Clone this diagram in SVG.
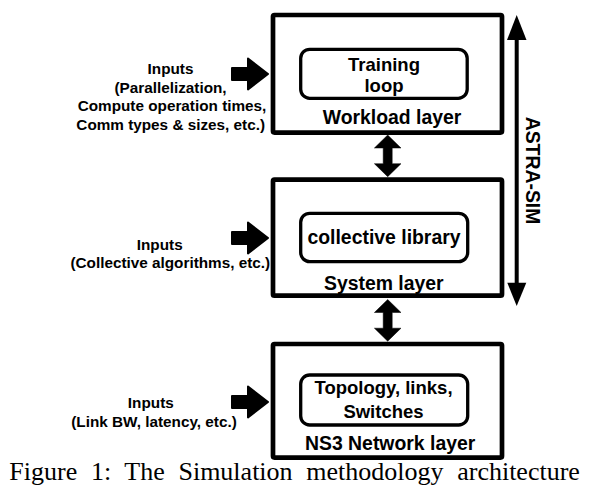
<svg xmlns="http://www.w3.org/2000/svg" width="595" height="494" viewBox="0 0 595 494">
<style>
  .layer { fill: #fff; stroke: #000; stroke-width: 4.7; }
  .inner { fill: #fff; stroke: #000; stroke-width: 3.3; }
  .lbl { font-family: "Liberation Sans", Arial, sans-serif; font-weight: bold; fill: #000; }
  .big { font-size: 19.4px; }
  .mid { font-size: 18.5px; }
  .inp { font-size: 15.3px; text-anchor: middle; }
  .c { text-anchor: middle; }
  .blk { fill: #000; stroke: #000; stroke-width: 2; stroke-linejoin: round; }
  .cap { font-family: "Liberation Serif", "Times New Roman", serif; font-size: 26px; fill: #000; }
</style>
<defs>
  <path id="inArrow" d="M232,-6 H248 V-15.5 L268,0 L248,15.5 V6 H232 Z"/>
  <path id="dblArrow" d="M0,0 L13.3,13 H4.5 V28.7 H13.3 L0,41.7 L-13.3,28.7 H-4.5 V13 H-13.3 Z"/>
</defs>
<rect width="595" height="494" fill="#fff"/>

<g id="connectors">
  <use href="#dblArrow" class="blk" transform="translate(387.7,135)" style="stroke-width:0.5"/>
  <use href="#dblArrow" class="blk" transform="translate(387.7,299.5)" style="stroke-width:0.5"/>
  <use href="#inArrow" class="blk" transform="translate(0,74)"/>
  <use href="#inArrow" class="blk" transform="translate(0,238)"/>
  <use href="#inArrow" class="blk" transform="translate(0,402)"/>
  <g id="astra-sim-arrow">
    <line x1="516.7" y1="38" x2="516.7" y2="285" stroke="#000" stroke-width="4"/>
    <polygon points="516.7,15 526.5,40 507,40" fill="#000"/>
    <polygon points="516.7,306 526.3,282.7 507.3,282.7" fill="#000"/>
    <text class="lbl big c" transform="translate(526,170.5) rotate(90)">ASTRA-SIM</text>
  </g>
</g>

<g id="node-workload">
  <rect class="layer" x="273" y="15" width="229" height="117.6" rx="1.5"/>
  <rect class="inner" x="300.7" y="49.3" width="166.5" height="49" rx="9"/>
  <text class="lbl mid c" x="384" y="70.7">Training</text>
  <text class="lbl mid c" x="384" y="91.5">loop</text>
  <text class="lbl big" x="322.7" y="124">Workload layer</text>
</g>

<g id="node-system">
  <rect class="layer" x="273" y="179.7" width="229" height="116" rx="1.5"/>
  <rect class="inner" x="300.7" y="213.3" width="167" height="48.3" rx="9"/>
  <text class="lbl big c" x="384" y="244">collective library</text>
  <text class="lbl big" x="324" y="290">System layer</text>
</g>

<g id="node-network">
  <rect class="layer" x="273" y="344" width="229" height="113.6" rx="1.5"/>
  <rect class="inner" x="300.7" y="375" width="167" height="50" rx="9"/>
  <text class="lbl mid c" x="383.5" y="394">Topology, links,</text>
  <text class="lbl mid c" x="383.5" y="418">Switches</text>
  <text class="lbl big" x="305" y="450">NS3 Network layer</text>
</g>

<g id="inputs-workload">
  <text class="lbl inp" x="170.5" y="74">Inputs</text>
  <text class="lbl inp" x="170.5" y="92.5">(Parallelization,</text>
  <text class="lbl inp" x="172" y="111">Compute operation times,</text>
  <text class="lbl inp" x="170.7" y="129.5">Comm types &amp; sizes, etc.)</text>
</g>

<g id="inputs-system">
  <text class="lbl inp" x="159.7" y="250">Inputs</text>
  <text class="lbl inp" x="170.3" y="268.3">(Collective algorithms, etc.)</text>
</g>

<g id="inputs-network">
  <text class="lbl inp" x="150.8" y="408.3">Inputs</text>
  <text class="lbl inp" x="154" y="426.7">(Link BW, latency, etc.)</text>
</g>

<g id="caption">
  <text class="cap" x="9.3" y="480" word-spacing="7.2">Figure 1: The Simulation methodology architecture</text>
</g>
</svg>
